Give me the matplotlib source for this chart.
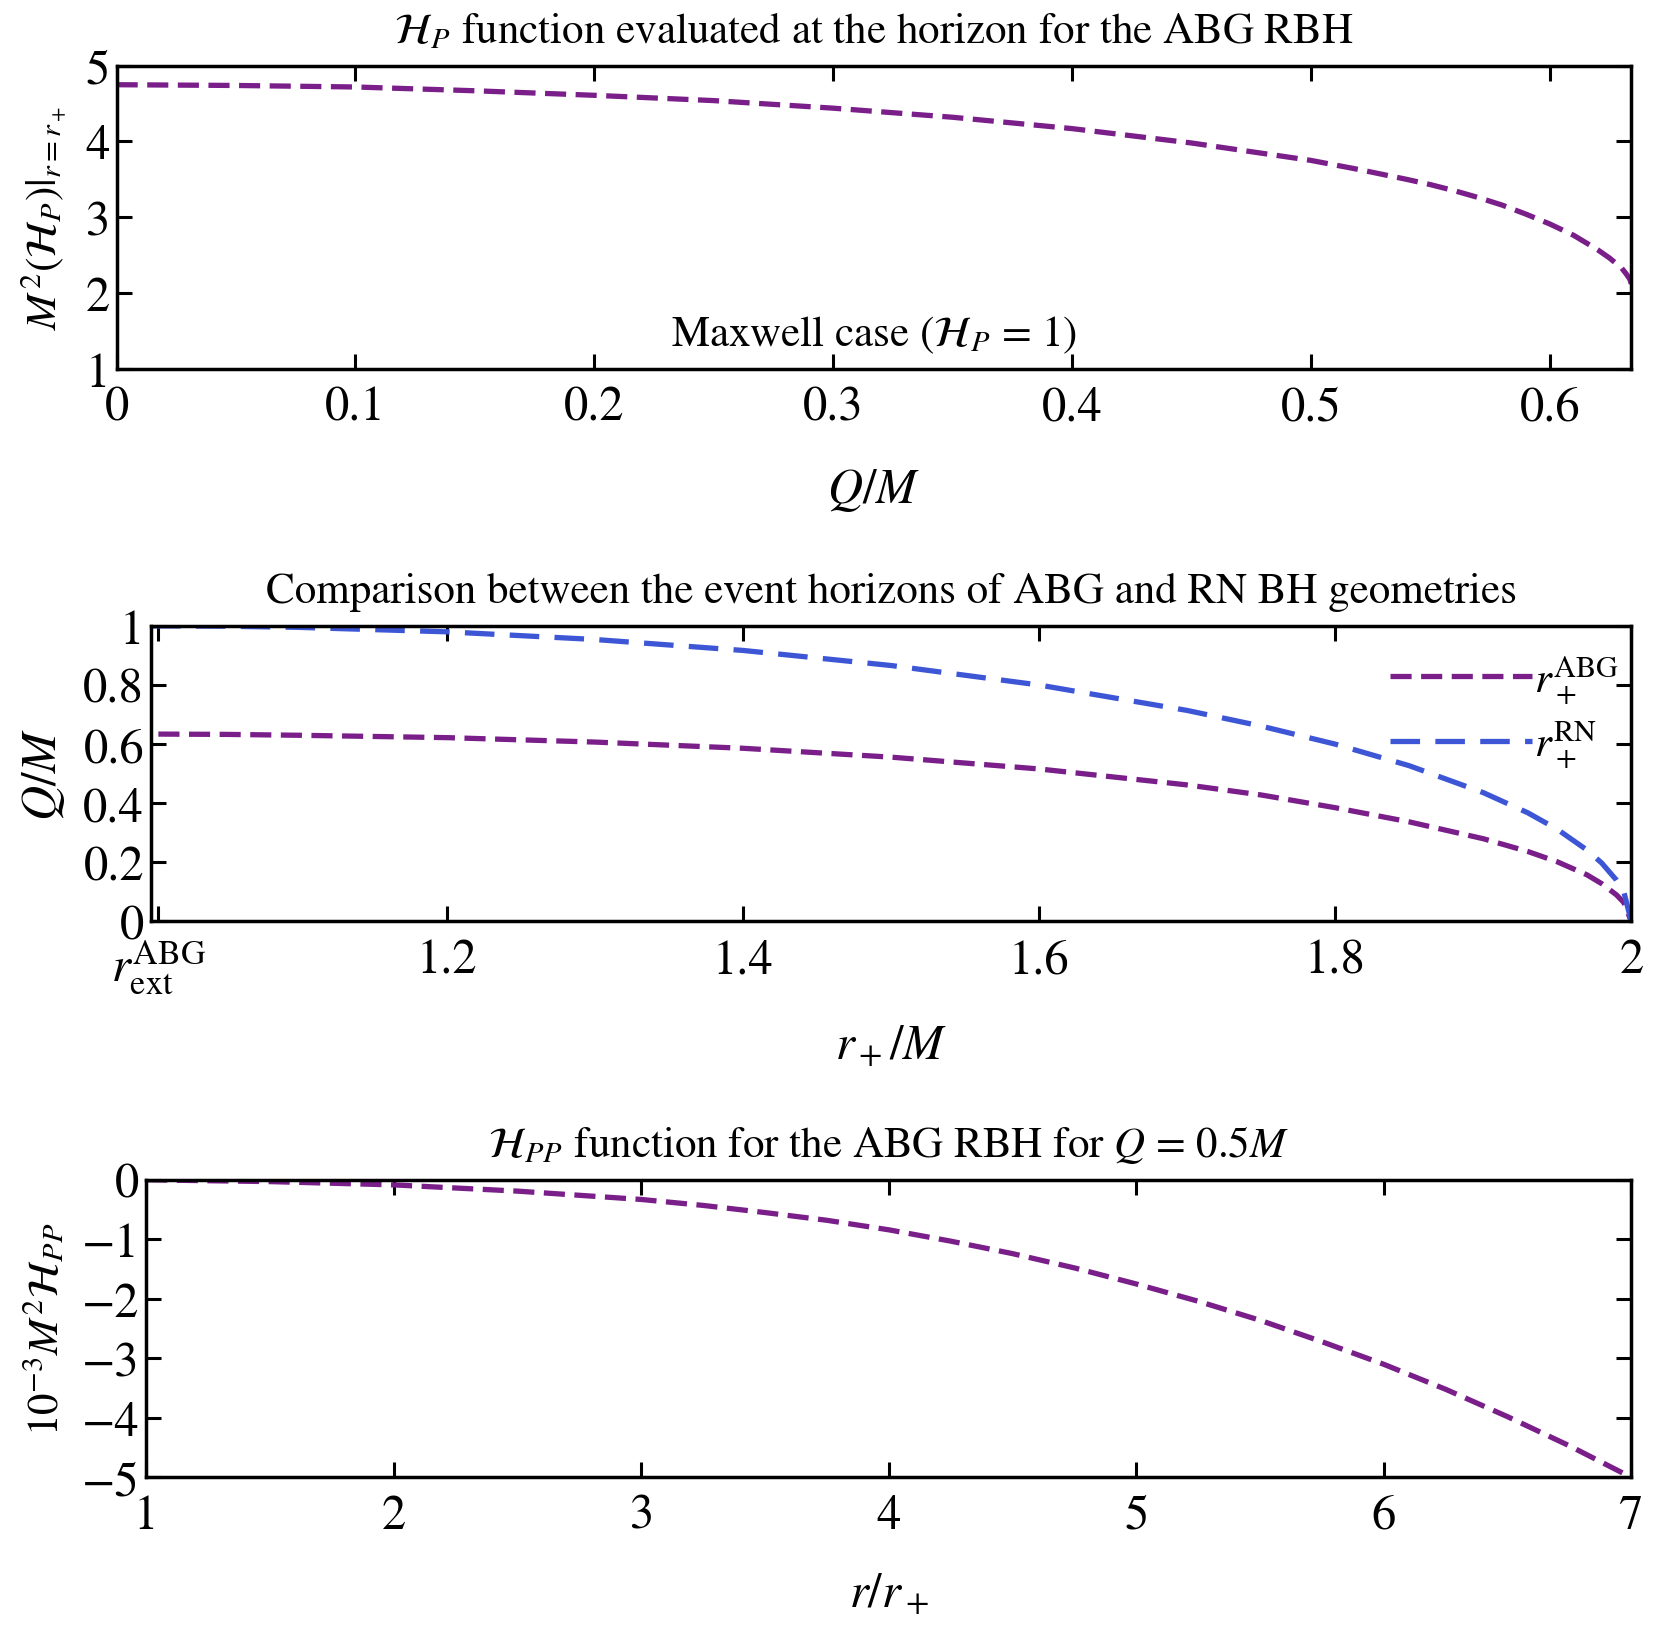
import numpy as np
import matplotlib
matplotlib.use('Agg')
import matplotlib.pyplot as plt

plt.rcParams['font.family'] = ['STIXGeneral', 'DejaVu Serif']
plt.rcParams['mathtext.fontset'] = 'stix'

# panel 1: H_P at the horizon vs Q/M
q_top = [0, 0.05, 0.1, 0.15, 0.2, 0.25, 0.3, 0.35, 0.4, 0.45, 0.5, 0.52, 0.54, 0.55,
         0.56, 0.57, 0.58, 0.59, 0.6, 0.61, 0.62, 0.625, 0.63, 0.632, 0.6335, 0.6341]
hp_top = [4.75, 4.74, 4.72, 4.67, 4.61, 4.54, 4.44, 4.32, 4.17, 3.98, 3.75, 3.63, 3.50, 3.43,
          3.35, 3.26, 3.16, 3.04, 2.91, 2.76, 2.57, 2.46, 2.33, 2.25, 2.18, 2.12]

# panel 2: Q/M vs r_+/M
r_abg = [1.005, 1.05, 1.1, 1.2, 1.3, 1.4, 1.5, 1.6, 1.7, 1.75, 1.8, 1.85, 1.9,
         1.93, 1.95, 1.97, 1.98, 1.99, 1.995, 2.0]
q_abg = [0.634, 0.633, 0.630, 0.622, 0.607, 0.586, 0.556, 0.516, 0.462, 0.428, 0.385,
         0.337, 0.280, 0.237, 0.202, 0.158, 0.128, 0.090, 0.064, 0.0]
r_rn = [1.0, 1.05, 1.1, 1.2, 1.3, 1.4, 1.5, 1.6, 1.7, 1.75, 1.8, 1.85, 1.9,
        1.93, 1.95, 1.97, 1.98, 1.99, 1.995, 2.0]
q_rn = [1.0, 0.999, 0.995, 0.980, 0.954, 0.917, 0.866, 0.800, 0.714, 0.661, 0.600,
        0.527, 0.436, 0.368, 0.312, 0.242, 0.198, 0.140, 0.100, 0.0]

# panel 3: H_PP vs r/r_+ for Q = 0.5M
r_pp = [1, 1.5, 2, 2.5, 3, 3.25, 3.5, 3.75, 4, 4.25, 4.5, 4.75, 5, 5.25, 5.5,
        5.75, 6, 6.25, 6.5, 6.75, 7]
hpp = [0, -0.03, -0.085, -0.19, -0.33, -0.43, -0.55, -0.68, -0.84, -1.03, -1.24, -1.48,
       -1.75, -2.04, -2.36, -2.72, -3.1, -3.52, -3.98, -4.47, -5.0]

purple = '#7a1e8a'
blue = '#3d56d6'
fs = 31
tfs = 35
lw = 3.8

fig = plt.figure(figsize=(16.61, 16.33), dpi=100)


def style(ax):
    for s in ax.spines.values():
        s.set_linewidth(2.5)
    ax.tick_params(direction='in', top=True, right=True, length=11, width=2.2,
                   labelsize=tfs)
    ax.tick_params(axis='x', pad=12)
    ax.tick_params(axis='y', pad=5)


ax1 = fig.add_axes([0.0702, 0.7737, 0.9119, 0.1854])
l1, = ax1.plot(q_top, hp_top, color=purple, lw=lw)
l1.set_dashes([4.0, 1.8])
ax1.set_xlim(0, 0.6341)
ax1.set_ylim(1, 5)
ax1.set_xticks([0, 0.1, 0.2, 0.3, 0.4, 0.5, 0.6])
ax1.set_xticklabels(['0', '0.1', '0.2', '0.3', '0.4', '0.5', '0.6'])
ax1.set_yticks([1, 2, 3, 4, 5])
ax1.set_yticklabels(['1', '2', '3', '4', '5'])
style(ax1)
ax1.set_title(r'$\mathcal{H}_P$ function evaluated at the horizon for the ABG RBH',
              fontsize=fs, pad=17)
ax1.set_xlabel(r'$Q/M$', fontsize=tfs, labelpad=26)
ax1.set_ylabel(r'$M^2(\mathcal{H}_P)|_{r=r_+}$', fontsize=fs, labelpad=12)
ax1.text(0.317, 1.45, r'Maxwell case ($\mathcal{H}_P$ = 1)', fontsize=fs,
         ha='center', va='center')

ax2 = fig.add_axes([0.0909, 0.4351, 0.8912, 0.1810])
l2, = ax2.plot(r_abg, q_abg, color=purple, lw=lw, label=r'$r_+^{\rm ABG}$')
l2.set_dashes([4.0, 1.8])
l3, = ax2.plot(r_rn, q_rn, color=blue, lw=lw, label=r'$r_+^{\rm RN}$')
l3.set_dashes([5.6, 2.9])
ax2.set_xlim(1.0, 2.0)
ax2.set_ylim(0, 1)
ax2.set_xticks([1.005, 1.2, 1.4, 1.6, 1.8, 2.0])
ax2.set_xticklabels([r'$r_{\rm ext}^{\rm ABG}$', '1.2', '1.4', '1.6', '1.8', '2'])
ax2.set_yticks([0, 0.2, 0.4, 0.6, 0.8, 1])
ax2.set_yticklabels(['0', '0.2', '0.4', '0.6', '0.8', '1'])
style(ax2)
ax2.set_title('Comparison between the event horizons of ABG and RN BH geometries',
              fontsize=fs, pad=17)
ax2.set_xlabel(r'$r_+/M$', fontsize=tfs, labelpad=20)
ax2.set_ylabel(r'$Q/M$', fontsize=tfs, labelpad=12)
ax2.legend(loc='upper right', bbox_to_anchor=(1.003, 0.965), frameon=False,
           fontsize=fs, handlelength=3.3, handletextpad=0.05, labelspacing=0.3,
           borderaxespad=0)

ax3 = fig.add_axes([0.0880, 0.0947, 0.8941, 0.1822])
l4, = ax3.plot(r_pp, hpp, color=purple, lw=lw)
l4.set_dashes([4.0, 1.8])
ax3.set_xlim(1, 7)
ax3.set_ylim(-5, 0)
ax3.set_xticks([1, 2, 3, 4, 5, 6, 7])
ax3.set_yticks([-5, -4, -3, -2, -1, 0])
style(ax3)
ax3.set_title(r'$\mathcal{H}_{PP}$ function for the ABG RBH for $Q$ = 0.5$M$',
              fontsize=fs, pad=17)
ax3.set_xlabel(r'$r/r_+$', fontsize=tfs, labelpad=24)
ax3.set_ylabel(r'$10^{-3}M^2\mathcal{H}_{PP}$', fontsize=fs, labelpad=10)

fig.savefig('out.png', dpi=100)
